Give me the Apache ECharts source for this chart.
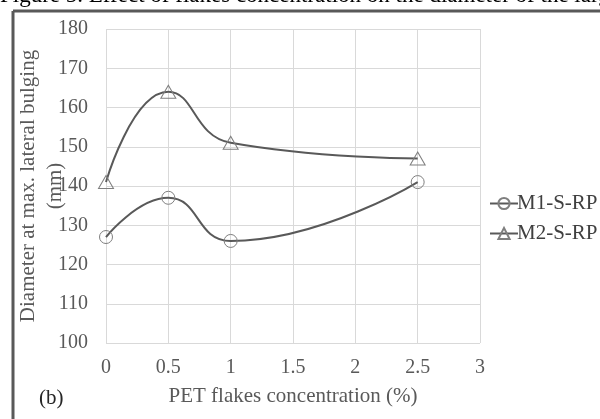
<!DOCTYPE html>
<html>
<head>
<meta charset="utf-8">
<script src="https://cdn.jsdelivr.net/npm/echarts@6/dist/echarts.min.js"></script>
<style>
html, body { margin: 0; padding: 0; background: #fff; }
#main { width: 600px; height: 419px; }
</style>
</head>
<body>
<div id="main"></div>
<script>
var concentration = [0, 0.5, 1, 2.5];
var m1 = [127, 137, 126, 141];
var m2 = [141, 164, 151, 147];
var seriesNames = ['M1-S-RP', 'M2-S-RP'];

function pairs(xs, ys) {
    return xs.map(function (x, i) { return [x, ys[i]]; });
}

var serif = '"Liberation Serif", "DejaVu Serif", serif';
var myChart = echarts.init(document.getElementById('main'));
var option = {
    backgroundColor: '#fff',
    animation: false,
    grid: { left: 106, right: 120, top: 29, bottom: 76, containLabel: false, outerBoundsMode: 'none' },
    legend: {
        orient: 'vertical',
        left: 484,
        top: 188,
        itemWidth: 28,
        itemHeight: 14,
        itemGap: 9,
        textStyle: { fontFamily: serif, fontSize: 21, color: '#404040', padding: [0, 0, 0, -6] },
        data: seriesNames
    },
    xAxis: {
        type: 'value',
        min: 0, max: 3, interval: 0.5,
        name: 'PET flakes concentration (%)',
        nameLocation: 'middle',
        nameGap: 43,
        nameMoveOverlap: false,
        nameTextStyle: { fontFamily: serif, fontSize: 21, color: '#595959' },
        axisLine: { show: false },
        axisTick: { show: false },
        axisLabel: { fontFamily: serif, fontSize: 20, color: '#595959', margin: 15 },
        splitLine: { show: true, lineStyle: { color: '#d9d9d9', width: 1 } }
    },
    yAxis: {
        type: 'value',
        min: 100, max: 180, interval: 10,
        name: 'Diameter at max. lateral bulging\n(mm)',
        nameLocation: 'middle',
        nameGap: 37,
        nameMoveOverlap: false,
        nameTextStyle: { fontFamily: serif, fontSize: 21, color: '#595959', lineHeight: 27 },
        axisLine: { show: false },
        axisTick: { show: false },
        axisLabel: { fontFamily: serif, fontSize: 20, color: '#595959', margin: 18 },
        splitLine: { show: true, lineStyle: { color: '#d9d9d9', width: 1 } }
    },
    graphic: [
        { type: 'line', shape: { x1: 13, y1: 11, x2: 600, y2: 11 }, style: { stroke: '#595959', lineWidth: 3 } },
        { type: 'line', shape: { x1: 13, y1: 11, x2: 13, y2: 419 }, style: { stroke: '#595959', lineWidth: 3 } },
        { type: 'text', left: 0, top: -16, style: { text: 'Figure 5. Effect of flakes concentration on the diameter of the largest', fontFamily: serif, fontSize: 23, fill: '#000' } },
        { type: 'text', left: 39, top: 388, style: { text: '(b)', fontFamily: serif, fontSize: 21, fill: '#262626' } }
    ],
    series: [
        {
            name: seriesNames[0],
            type: 'line',
            smooth: 0.5,
            data: pairs(concentration, m1),
            symbol: 'circle',
            symbolSize: 13,
            lineStyle: { color: '#595959', width: 2 },
            itemStyle: { color: 'rgba(255,255,255,0)', borderColor: '#7f7f7f', borderWidth: 1 }
        },
        {
            name: seriesNames[1],
            type: 'line',
            smooth: 0.5,
            data: pairs(concentration, m2),
            symbol: 'triangle',
            symbolSize: [15, 13],
            lineStyle: { color: '#595959', width: 2 },
            itemStyle: { color: 'rgba(255,255,255,0)', borderColor: '#7f7f7f', borderWidth: 1 }
        }
    ]
};
myChart.setOption(option);
</script>
</body>
</html>
